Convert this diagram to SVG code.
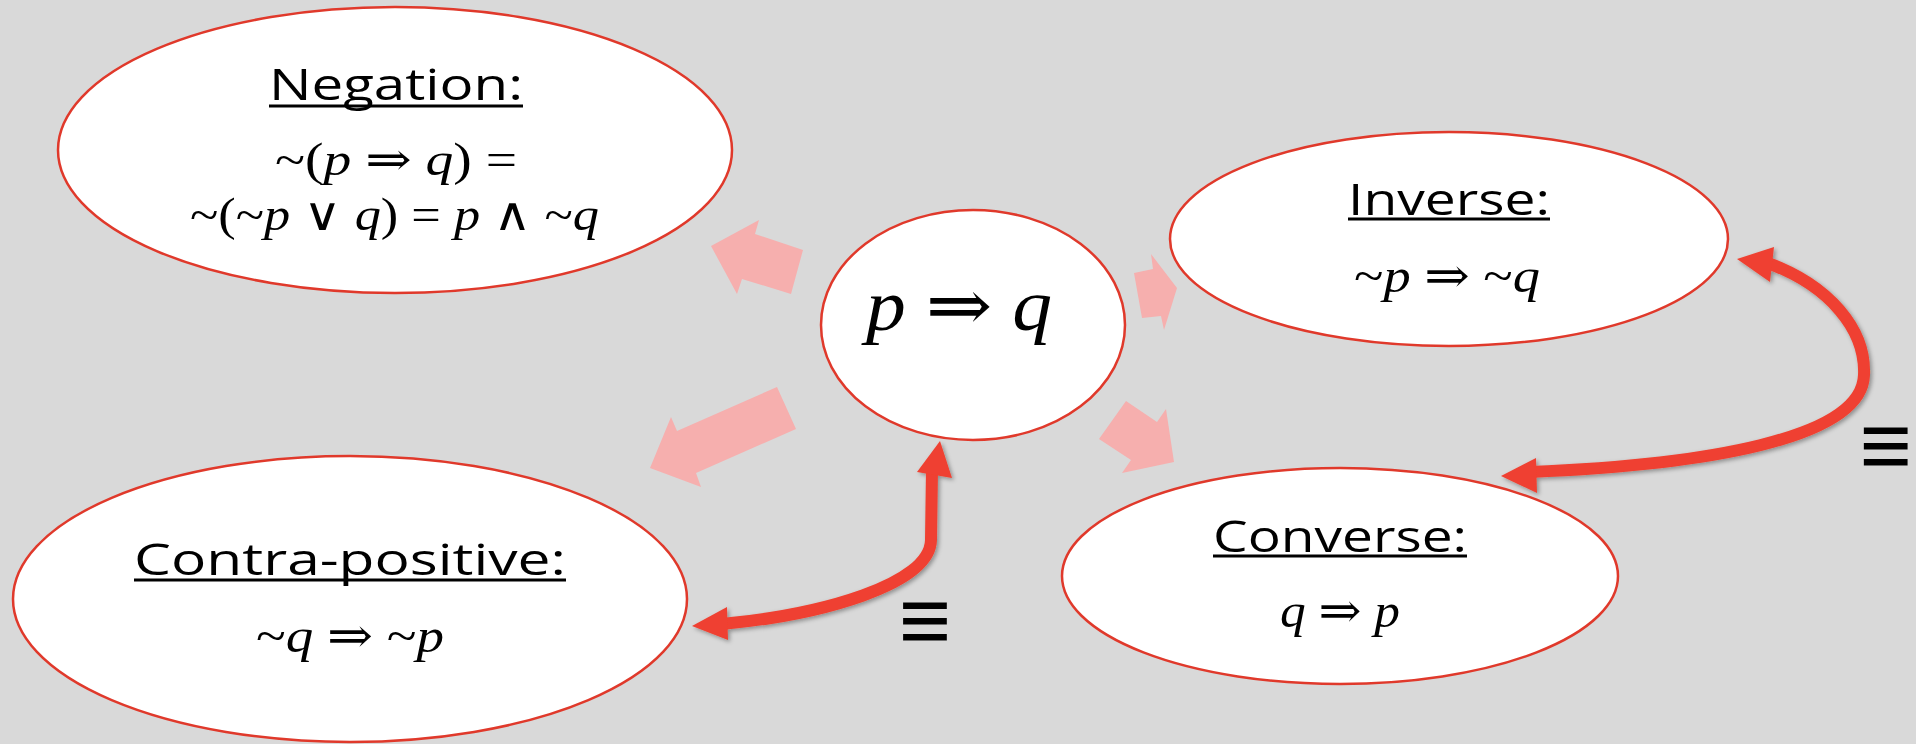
<svg xmlns="http://www.w3.org/2000/svg" width="1916" height="744" viewBox="0 0 1916 744">
<defs>
<style>
.node{fill:#ffffff;stroke:#e0392b;stroke-width:2.5}
.lbl{font-family:"Open Sans","Noto Sans",sans-serif;font-size:44px;fill:#000;text-anchor:start}
.ul{stroke:#000;stroke-width:3}
.math{font-family:"Liberation Serif","DejaVu Serif",serif;fill:#000}
.v{font-style:italic}
.pink{fill:#f6afae}
.red{fill:none;stroke:#ef4130;stroke-width:12}
.redhead{fill:#ef4130}
.eq{font-family:"Liberation Sans","DejaVu Sans",sans-serif;font-size:90px;fill:#000}
</style>
<filter id="sh" x="-20%" y="-20%" width="140%" height="140%">
<feDropShadow dx="2" dy="2" stdDeviation="2" flood-color="#000" flood-opacity="0.35"/>
</filter>
</defs>
<rect x="0" y="0" width="1916" height="744" fill="#d9d9d9"/>

<g id="connectors">
<polygon class="pink" points="711,246 759,220 755,234 803,250 791,294 742,279 737,294"/>
<polygon class="pink" points="1134,273 1153,269 1151,254 1177,288 1164,330 1161,316 1142,318"/>
<polygon class="pink" points="1126,401 1157,422 1166,409 1174,462 1122,473 1131,460 1099,439"/>
<polygon class="pink" points="777,387 796,429 696,473 701,487 650,468 671,417 677,431"/>
<g filter="url(#sh)">
<path class="red" d="M 932,470 L 931,540 C 930,585 820,615 722,624"/>
<polygon class="redhead" points="940,441 952,478 917,472"/>
<polygon class="redhead" points="692,626 727,607 728,640"/>
</g>
<g filter="url(#sh)">
<path class="red" d="M 1765,262 C 1830,285 1866,330 1864,375 C 1862,440 1700,465 1530,472"/>
<polygon class="redhead" points="1737,259 1774,247 1770,282"/>
<polygon class="redhead" points="1501,476 1536,458 1537,493"/>
</g>
</g>

<g id="node-center">
<ellipse class="node" cx="973" cy="325" rx="152" ry="115"/>
<text class="math" x="959" y="330" font-size="72" text-anchor="middle" textLength="186" lengthAdjust="spacingAndGlyphs"><tspan class="v">p</tspan> ⇒ <tspan class="v">q</tspan></text>
</g>

<g id="node-negation">
<ellipse class="node" cx="395" cy="150" rx="337" ry="143"/>
<text class="lbl" x="269" y="100" textLength="254" lengthAdjust="spacingAndGlyphs">Negation:</text>
<line class="ul" x1="269" y1="106" x2="523" y2="106"/>
<text class="math" x="275" y="175" font-size="46" textLength="242" lengthAdjust="spacingAndGlyphs">~(<tspan class="v">p</tspan> ⇒ <tspan class="v">q</tspan>) =</text>
<text class="math" x="190" y="230" font-size="46" textLength="409" lengthAdjust="spacingAndGlyphs">~(~<tspan class="v">p</tspan> ∨ <tspan class="v">q</tspan>) = <tspan class="v">p</tspan> ∧ ~<tspan class="v">q</tspan></text>
</g>

<g id="node-inverse">
<ellipse class="node" cx="1449" cy="239" rx="279" ry="107"/>
<text class="lbl" x="1348" y="215" textLength="202" lengthAdjust="spacingAndGlyphs">Inverse:</text>
<line class="ul" x1="1348" y1="219" x2="1550" y2="219"/>
<text class="math" x="1354" y="292" font-size="48" textLength="186" lengthAdjust="spacingAndGlyphs">~<tspan class="v">p</tspan> ⇒ ~<tspan class="v">q</tspan></text>
</g>

<g id="node-contrapositive">
<ellipse class="node" cx="350" cy="599" rx="337" ry="143"/>
<text class="lbl" x="134" y="575" textLength="432" lengthAdjust="spacingAndGlyphs">Contra-positive:</text>
<line class="ul" x1="134" y1="580" x2="566" y2="580"/>
<text class="math" x="256" y="652" font-size="48" textLength="188" lengthAdjust="spacingAndGlyphs">~<tspan class="v">q</tspan> ⇒ ~<tspan class="v">p</tspan></text>
</g>

<g id="node-converse">
<ellipse class="node" cx="1340" cy="576" rx="278" ry="108"/>
<text class="lbl" x="1213" y="552" textLength="254" lengthAdjust="spacingAndGlyphs">Converse:</text>
<line class="ul" x1="1213" y1="556" x2="1467" y2="556"/>
<text class="math" x="1280" y="627" font-size="48" textLength="120" lengthAdjust="spacingAndGlyphs"><tspan class="v">q</tspan> ⇒ <tspan class="v">p</tspan></text>
</g>

<g id="equiv-labels">
<text class="eq" x="925" y="651" text-anchor="middle">≡</text>
<text class="eq" x="1912" y="476" text-anchor="end">≡</text>
</g>
</svg>
